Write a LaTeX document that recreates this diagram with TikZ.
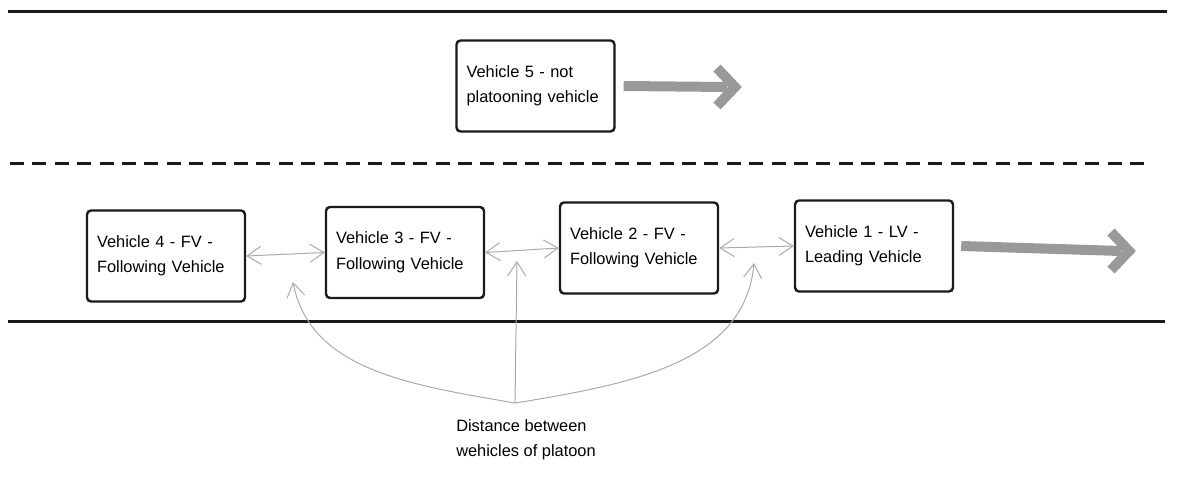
\documentclass[tikz,border=0pt]{standalone}
\usepackage{fontspec}
\setmainfont{Liberation Sans}
\usetikzlibrary{arrows.meta,calc}
\definecolor{roadcol}{HTML}{1A1A1A}
\definecolor{biggray}{HTML}{999999}
\definecolor{thingray}{HTML}{AAAAAA}
\tikzset{
  vehbox/.style={draw=roadcol, line width=2.4pt, rounded corners=4pt, fill=white,
    minimum width=158pt, minimum height=91pt, text width=138pt, inner xsep=10pt,
    align=left, font=\fontsize{16.4}{25.5}\selectfont, anchor=center},
  road/.style={draw=roadcol, line width=3pt},
  lane/.style={draw=roadcol, line width=3pt, dash pattern=on 14pt off 8.4pt},
  gap/.style={draw=thingray, line width=1pt, {Straight Barb[length=14pt,width=18pt]}-{Straight Barb[length=14pt,width=18pt]}},
  pointer/.style={draw=thingray, line width=1pt, -{Straight Barb[length=14pt,width=18pt]}},
  bigarrow/.style={draw=biggray, line width=10pt},
  label/.style={align=left, font=\fontsize{16.4}{25.5}\selectfont}
}
\begin{document}
\begin{tikzpicture}[x=1pt,y=-1pt]
\useasboundingbox (0,0) rectangle (1177,479);
% road lines
\coordinate (r1a) at (8,11); \coordinate (r1b) at (1167,11);
\coordinate (r2a) at (8,321); \coordinate (r2b) at (1165,321);
\coordinate (l1a) at (10,163); \coordinate (l1b) at (1152,163);
\draw[road] (r1a) -- (r1b);
\draw[road] (r2a) -- (r2b);
\draw[lane] (l1a) -- (l1b);
% vehicles
\node[vehbox] (v5) at (535.5,86) {Vehicle 5 - not\\platooning vehicle};
\node[vehbox] (v4) at (166,256) {Vehicle 4 - FV -\\Following Vehicle};
\node[vehbox] (v3) at (405,252.5) {Vehicle 3 - FV -\\Following Vehicle};
\node[vehbox] (v2) at (639,248) {Vehicle 2 - FV -\\Following Vehicle};
\node[vehbox] (v1) at (874,246) {Vehicle 1 - LV -\\Leading Vehicle};
% big direction arrows
\coordinate (e5) at (735,87);
\coordinate (e1) at (1129,251);
\draw[bigarrow] ([xshift=8pt]v5.east) -- ([xshift=-8pt]e5);
\draw[bigarrow, miter limit=10] ([shift={(-18,-19)}]e5) -- (e5) -- ([shift={(-18,19)}]e5);
\draw[bigarrow] ([xshift=7pt]v1.east) -- ([xshift=-8pt]e1);
\draw[bigarrow, miter limit=10] ([shift={(-18,-19)}]e1) -- (e1) -- ([shift={(-18,19)}]e1);
% gaps
\draw[gap] (v4.east) -- (v3.west);
\draw[gap] (v3.east) -- (v2.west);
\draw[gap] (v2.east) -- (v1.west);
% label and pointers
\node[label] (lbl) at (526,440) {Distance between\\wehicles of platoon};
\coordinate (j) at (515,403);
\coordinate (p1) at (293,282);
\coordinate (p2) at (517,261);
\coordinate (p3) at (754,263);
\draw[pointer] (j) .. controls (410,385) and (310,370) .. (p1);
\draw[pointer] (j) -- (p2);
\draw[pointer] (j) .. controls (640,383) and (745,360) .. (p3);
\end{tikzpicture}
\end{document}
